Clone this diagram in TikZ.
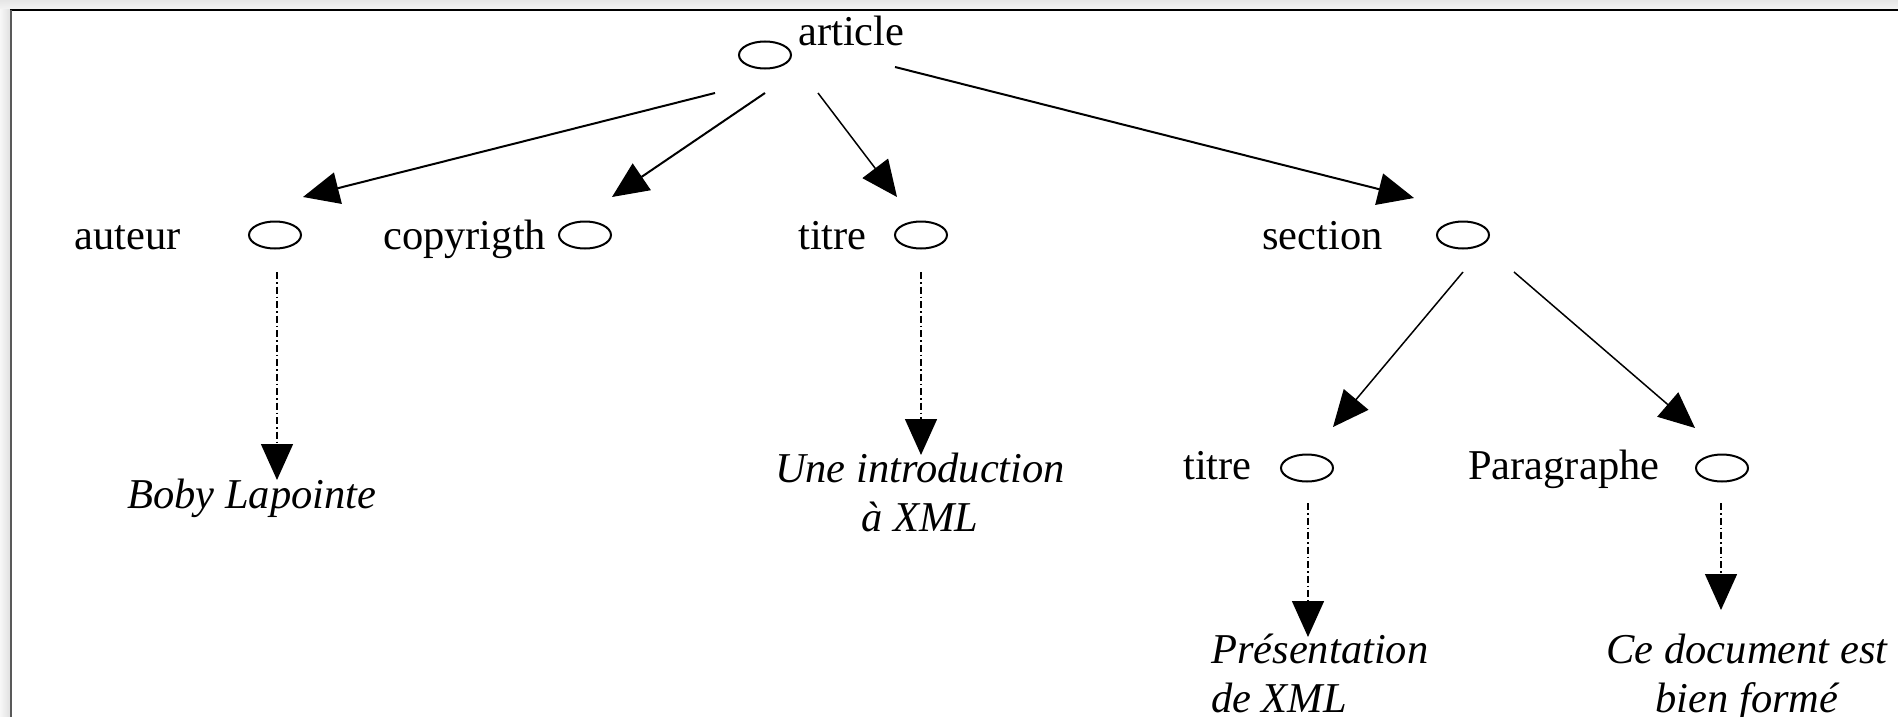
\documentclass[tikz,border=0pt]{standalone}
\usepackage{fontspec}
\setmainfont{Liberation Serif}
\usetikzlibrary{arrows.meta,shapes.geometric}
\begin{document}
\begin{tikzpicture}[x=1pt,y=-1pt,
  el/.style={draw, ellipse, line width=2pt, minimum width=52pt, minimum height=27pt, inner sep=0pt},
  lbl/.style={inner sep=0pt, anchor=base west, font=\fontsize{42.5}{49}\selectfont},
  leaf/.style={inner sep=0pt, font=\fontsize{42.5}{49}\selectfont\itshape},
  tip/.style={-{Triangle[length=36pt,width=32pt]}},
  arrthick/.style={draw, tip, line width=2pt},
  arrthin/.style={draw, tip, line width=1.5pt},
  arrdash/.style={draw, tip, line width=1.5pt, dash pattern=on 7pt off 3pt on 1.5pt off 3pt}
]
\useasboundingbox (0,0) rectangle (1898,717);
% frame of the screenshot
\shade[top color=black!10, bottom color=black!4] (0,0) rectangle (1898,10);
\shade[left color=black!3, right color=black!12] (0,10) rectangle (10,717);
\draw[line width=2pt] (10,10) -- (1898,10);
\draw[line width=2pt, black!65] (11,10) -- (11,717);

% ellipses
\node[el] (art) at (765,55) {};
\node[el] (aut) at (275,235) {};
\node[el] (cop) at (585,235) {};
\node[el] (tit) at (921,235) {};
\node[el] (sec) at (1463,235) {};
\node[el] (tit2) at (1307,468) {};
\node[el] (par) at (1722,468) {};

% labels
\node[lbl] (lart) at (798,46) {article};
\node[lbl] (laut) at (74,249) {auteur};
\node[lbl] (lcop) at (383,249) {copyrigth};
\node[lbl] (ltit) at (798,249) {titre};
\node[lbl] (lsec) at (1262,249) {section};
\node[lbl] (ltit2) at (1183,479) {titre};
\node[lbl] (lpar) at (1468,479) {Paragraphe};

% leaves
\node[leaf, anchor=base west] (boby) at (127,508) {Boby Lapointe};
\node[leaf, anchor=base] (une) at (920,482) {\begin{tabular}[t]{@{}c@{}}Une introduction\\ à XML\end{tabular}};
\node[leaf, anchor=base west] (pres) at (1211,663) {\begin{tabular}[t]{@{}l@{}}Présentation\\ de XML\end{tabular}};
\node[leaf, anchor=base] (ce) at (1747,663) {\begin{tabular}[t]{@{}c@{}}Ce document est\\ bien formé\end{tabular}};

% connectors from article
\path[arrthick] ([shift={(-50,38)}]art.center) -- ([shift={(28,-38)}]aut.center);
\path[arrthick] ([shift={(0,38)}]art.center) -- ([shift={(27,-38)}]cop.center);
\path[arrthin] ([shift={(53,38)}]art.center) -- ([shift={(-24,-38)}]tit.center);
\path[arrthick] ([shift={(130,12)}]art.center) -- ([shift={(-49,-37)}]sec.center);
% connectors from section
\path[arrthin] ([shift={(0,37)}]sec.center) -- ([shift={(26,-41)}]tit2.center);
\path[arrthin] ([shift={(51,37)}]sec.center) -- ([shift={(-27,-40)}]par.center);
% value connectors
\path[arrdash] ([shift={(2,37)}]aut.center) -- ([shift={(150,-28)}]boby.base west);
\path[arrdash] ([shift={(0,37)}]tit.center) -- ([shift={(0,220)}]tit.center);
\path[arrdash] ([shift={(1,35)}]tit2.center) -- ([shift={(1,169)}]tit2.center);
\path[arrdash] ([shift={(-1,35)}]par.center) -- ([shift={(-1,142)}]par.center);
\end{tikzpicture}
\end{document}
